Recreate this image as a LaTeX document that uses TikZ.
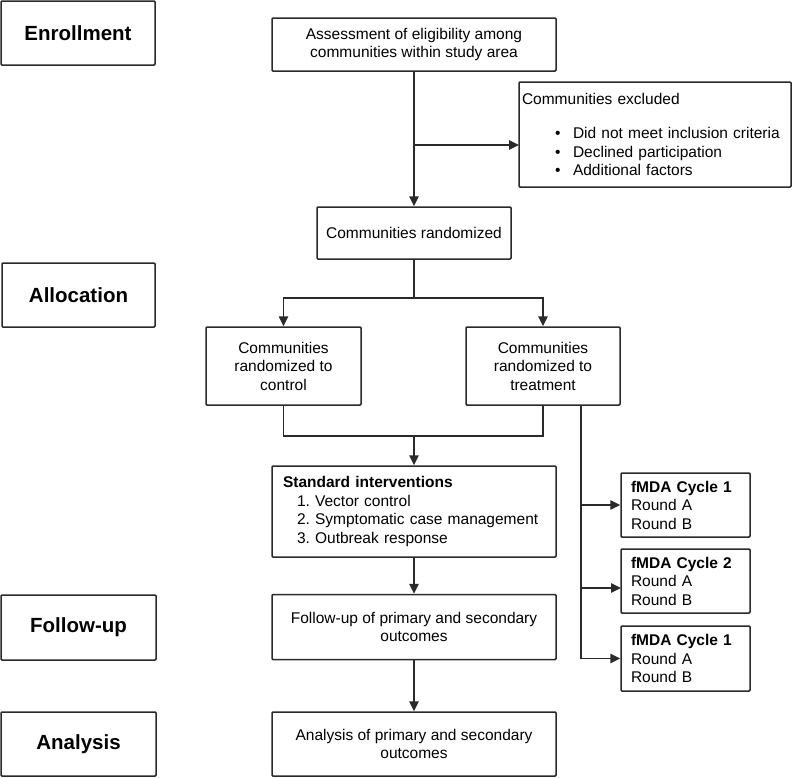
\documentclass[tikz,border=0pt]{standalone}
\usepackage{fontspec}
\setmainfont{Liberation Sans}
\usetikzlibrary{arrows.meta}
\definecolor{ln}{HTML}{2A2A2A}
\begin{document}
\begin{tikzpicture}[x=1pt,y=-1pt,
  every node/.style={font=\fontsize{15.5}{18.5}\selectfont, text=black},
  box/.style={draw=ln, line width=1.5pt, rounded corners=1pt, inner sep=0pt, align=center},
  lbox/.style={box, font=\fontsize{20.5}{24}\selectfont\bfseries},
  lbl/.style={box, align=left},
  ln/.style={draw=ln, line width=1.5pt},
  arr/.style={ln, -{Triangle[length=10pt,width=9.5pt]}}]
\useasboundingbox (0,0) rectangle (792,777);
% phase labels
\node[lbox, minimum width=154, minimum height=64] (enr) at (78,33) {Enrollment};
\node[lbox, minimum width=153, minimum height=64] (alc) at (78.5,295) {Allocation};
\node[lbox, minimum width=155, minimum height=65] (flu) at (78.5,627.5) {Follow-up};
\node[lbox, minimum width=155, minimum height=64] (ana) at (78.5,744) {Analysis};
% main boxes
\node[box, minimum width=284, minimum height=53] (assess) at (414,44.5) {Assessment of eligibility among\\communities within study area};
\node[lbl, minimum width=272, minimum height=105, text width=266, inner xsep=3] (excl) at (655,134.5)
  {Communities excluded\\[15.5pt]
   \hspace*{33pt}\makebox[18pt][l]{\textbullet}Did not meet inclusion criteria\\
   \hspace*{33pt}\makebox[18pt][l]{\textbullet}Declined participation\\
   \hspace*{33pt}\makebox[18pt][l]{\textbullet}Additional factors};
\node[box, minimum width=194, minimum height=52] (rand) at (414,233) {Communities randomized};
\node[box, minimum width=155, minimum height=78] (ctrl) at (283.5,366) {Communities\\randomized to\\control};
\node[box, minimum width=154, minimum height=78] (treat) at (543,366) {Communities\\randomized to\\treatment};
\node[lbl, minimum width=284, minimum height=91, text width=262, inner xsep=11] (std) at (414,511.5)
  {\textbf{Standard interventions}\\
   \hspace*{14pt}1.~Vector control\\
   \hspace*{14pt}2.~Symptomatic case management\\
   \hspace*{14pt}3.~Outbreak response};
\node[box, minimum width=284, minimum height=65] (fu) at (414,627) {Follow-up of primary and secondary\\outcomes};
\node[box, minimum width=284, minimum height=64] (an) at (414,744) {Analysis of primary and secondary\\outcomes};
\node[lbl, minimum width=129, minimum height=64, text width=109, inner xsep=10] (f1) at (685.5,505) {\textbf{fMDA Cycle 1}\\Round A\\Round B};
\node[lbl, minimum width=129, minimum height=64, text width=109, inner xsep=10] (f2) at (685.5,581) {\textbf{fMDA Cycle 2}\\Round A\\Round B};
\node[lbl, minimum width=129, minimum height=65, text width=109, inner xsep=10] (f3) at (685.5,658.5) {\textbf{fMDA Cycle 1}\\Round A\\Round B};
% connectors
\coordinate (excin) at (519,145);
\draw[arr] (assess.south) -- (rand.north);
\draw[arr] (assess.south |- excin) -- (excin);
\coordinate (s1) at (414,298);
\draw[arr] (rand.south) -- (s1) -| (ctrl.north);
\draw[arr] (s1) -| (treat.north);
\coordinate (m1) at (414,436);
\draw[ln] (ctrl.south) |- (m1);
\draw[ln] (treat.south) |- (m1);
\draw[arr] (m1) -- (std.north);
\draw[arr] (std.south) -- (fu.north);
\draw[arr] (fu.south) -- (an.north);
\coordinate (tb) at (581,405);
\coordinate (f2in) at (621,588);
\draw[arr] (tb) |- (f3.west);
\draw[arr] (tb |- f1.west) -- (f1.west);
\draw[arr] (tb |- f2in) -- (f2in);
\end{tikzpicture}
\end{document}
